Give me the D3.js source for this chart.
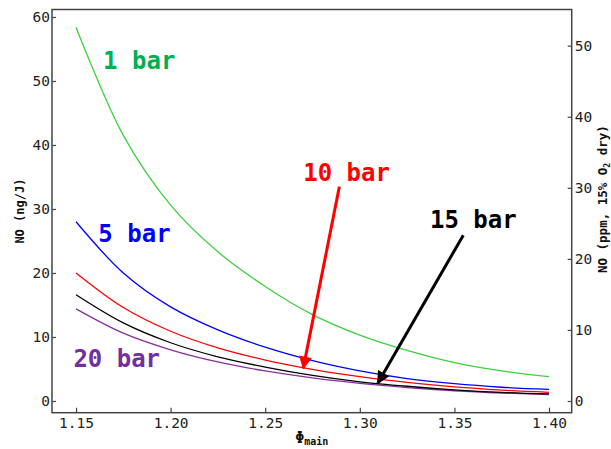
<!DOCTYPE html>
<html>
<head>
<meta charset="utf-8">
<script src="https://cdn.jsdelivr.net/npm/d3@7"></script>
<style>
  body { margin: 0; background: #fff; }
  svg { font-family: "DejaVu Sans Mono", monospace; }
  .axis text { font-family: "DejaVu Sans Mono", monospace; font-size: 14.5px; fill: #222; }
  .axis path { display: none; }
  .axis line { stroke: #444; stroke-width: 1.2; }
</style>
</head>
<body>
<svg id="chart" width="611" height="449"></svg>
<script>
// equivalence ratio (x)
const phi = [1.150, 1.175, 1.200, 1.225, 1.250, 1.275, 1.300, 1.325, 1.350, 1.375, 1.400];

// NO (ng/J) for each pressure
const no1bar  = [58.4, 41.5, 30.6, 23.3, 17.9, 13.5, 10.3, 7.9, 6.0, 4.7, 3.8];
const no5bar  = [28.0, 20.0, 14.7, 11.1, 8.4, 6.3, 4.7, 3.5, 2.7, 2.15, 1.8];
const no10bar = [20.0, 14.6, 10.9, 8.3, 6.4, 4.95, 3.8, 2.9, 2.2, 1.7, 1.35];
const no15bar = [16.6, 12.2, 9.1, 6.9, 5.3, 4.0, 3.0, 2.3, 1.75, 1.35, 1.1];
const no20bar = [14.4, 10.6, 8.0, 6.1, 4.7, 3.6, 2.75, 2.1, 1.6, 1.25, 1.0];

const xTicks = [1.15, 1.20, 1.25, 1.30, 1.35, 1.40];
const yTicks = [0, 10, 20, 30, 40, 50, 60];
const yRightTicks = [0, 10, 20, 30, 40, 50];

// ng/J -> ppm (15% O2 dry)
const ppmFactor = 0.9006;

const series = [
  { name: "1 bar",  values: no1bar,  line: "#3fcf3f", label: "#00b050", at: [1.1643, 51.9] },
  { name: "5 bar",  values: no5bar,  line: "#0000ff", label: "#0000ff", at: [1.1618, 24.9] },
  { name: "10 bar", values: no10bar, line: "#ff0000", label: "#ff0000", at: [1.2701, 34.4] },
  { name: "15 bar", values: no15bar, line: "#000000", label: "#000000", at: [1.3371, 27.0] },
  { name: "20 bar", values: no20bar, line: "#8b2f9f", label: "#7030a0", at: [1.1486, 5.27] }
];

// annotation arrows: [from, to] in data units
const arrows = [
  { color: "#ff0000", from: [1.2892, 33.5], to: [1.2701, 5.1] },
  { color: "#000000", from: [1.3547, 25.9], to: [1.3095, 2.77] }
];

const width = 611, height = 449;
const margin = { top: 9.5, right: 39.3, bottom: 36.3, left: 52 };

const svg = d3.select("#chart");

const x = d3.scaleLinear()
    .domain([1.1373, 1.412])
    .range([margin.left, width - margin.right]);

const y = d3.scaleLinear()
    .domain([-1.83, 61.17])
    .range([height - margin.bottom, margin.top]);

const yRight = d3.scaleLinear()
    .domain(y.domain().map(d => d * ppmFactor))
    .range(y.range());

// arrow head marker
const defs = svg.append("defs");
arrows.forEach((a, i) => {
    defs.append("marker")
        .attr("id", "head" + i)
        .attr("viewBox", "0 0 10 10")
        .attr("refX", 9)
        .attr("refY", 5)
        .attr("markerUnits", "userSpaceOnUse")
        .attr("markerWidth", 14)
        .attr("markerHeight", 13)
        .attr("orient", "auto")
        .append("path")
        .attr("d", "M0,0 L10,5 L0,10 Z")
        .attr("fill", a.color);
});

// axes
svg.append("g")
    .attr("class", "axis")
    .attr("transform", `translate(0,${height - margin.bottom})`)
    .call(d3.axisBottom(x).tickValues(xTicks).tickFormat(d3.format(".2f")).tickSize(-5).tickPadding(5));

svg.append("g")
    .attr("class", "axis")
    .attr("transform", `translate(${margin.left},0)`)
    .call(d3.axisLeft(y).tickValues(yTicks).tickSize(-4).tickPadding(2));

svg.append("g")
    .attr("class", "axis")
    .attr("transform", `translate(${width - margin.right},0)`)
    .call(d3.axisRight(yRight).tickValues(yRightTicks).tickSize(-4).tickPadding(3));

// frame
svg.append("rect")
    .attr("x", margin.left)
    .attr("y", margin.top)
    .attr("width", width - margin.left - margin.right)
    .attr("height", height - margin.top - margin.bottom)
    .attr("fill", "none")
    .attr("stroke", "#444")
    .attr("stroke-width", 1.5);

// curves
const line = d3.line()
    .x((d, i) => x(phi[i]))
    .y(d => y(d))
    .curve(d3.curveCatmullRom.alpha(0.5));

svg.append("g")
    .selectAll("path")
    .data(series.slice().reverse())
    .join("path")
    .attr("d", d => line(d.values))
    .attr("fill", "none")
    .attr("stroke", d => d.line)
    .attr("stroke-width", 1.3);

// series labels
svg.append("g")
    .selectAll("text")
    .data(series)
    .join("text")
    .attr("x", d => x(d.at[0]))
    .attr("y", d => y(d.at[1]))
    .attr("fill", d => d.label)
    .attr("font-size", "24px")
    .attr("font-weight", "bold")
    .attr("xml:space", "preserve")
    .text(d => d.name);

// arrows
svg.append("g")
    .selectAll("line")
    .data(arrows)
    .join("line")
    .attr("x1", d => x(d.from[0]))
    .attr("y1", d => y(d.from[1]))
    .attr("x2", d => x(d.to[0]))
    .attr("y2", d => y(d.to[1]))
    .attr("stroke", d => d.color)
    .attr("stroke-width", 3)
    .attr("marker-end", (d, i) => `url(#head${i})`);

// axis titles
svg.append("text")
    .attr("transform", `translate(24,${(margin.top + height - margin.bottom) / 2}) rotate(-90)`)
    .attr("text-anchor", "middle")
    .attr("font-size", "12px")
    .attr("font-weight", "bold")
    .attr("fill", "#111")
    .text("NO (ng/J)");

const rightTitle = svg.append("text")
    .attr("transform", `translate(607,${(margin.top + height - margin.bottom) / 2 - 12}) rotate(-90)`)
    .attr("text-anchor", "middle")
    .attr("font-size", "12.5px")
    .attr("font-weight", "bold")
    .attr("fill", "#111");
rightTitle.append("tspan").text("NO (ppm, 15% O");
rightTitle.append("tspan").attr("font-size", "8px").attr("dy", 3).text("2");
rightTitle.append("tspan").attr("dy", -3).text(" dry)");

const xTitle = svg.append("text")
    .attr("x", (margin.left + width - margin.right) / 2)
    .attr("y", 443)
    .attr("text-anchor", "middle")
    .attr("font-weight", "bold")
    .attr("fill", "#111");
xTitle.append("tspan").attr("font-size", "15px").text("Φ");
xTitle.append("tspan").attr("font-size", "10px").attr("dy", 2).text("main");
</script>
</body>
</html>
